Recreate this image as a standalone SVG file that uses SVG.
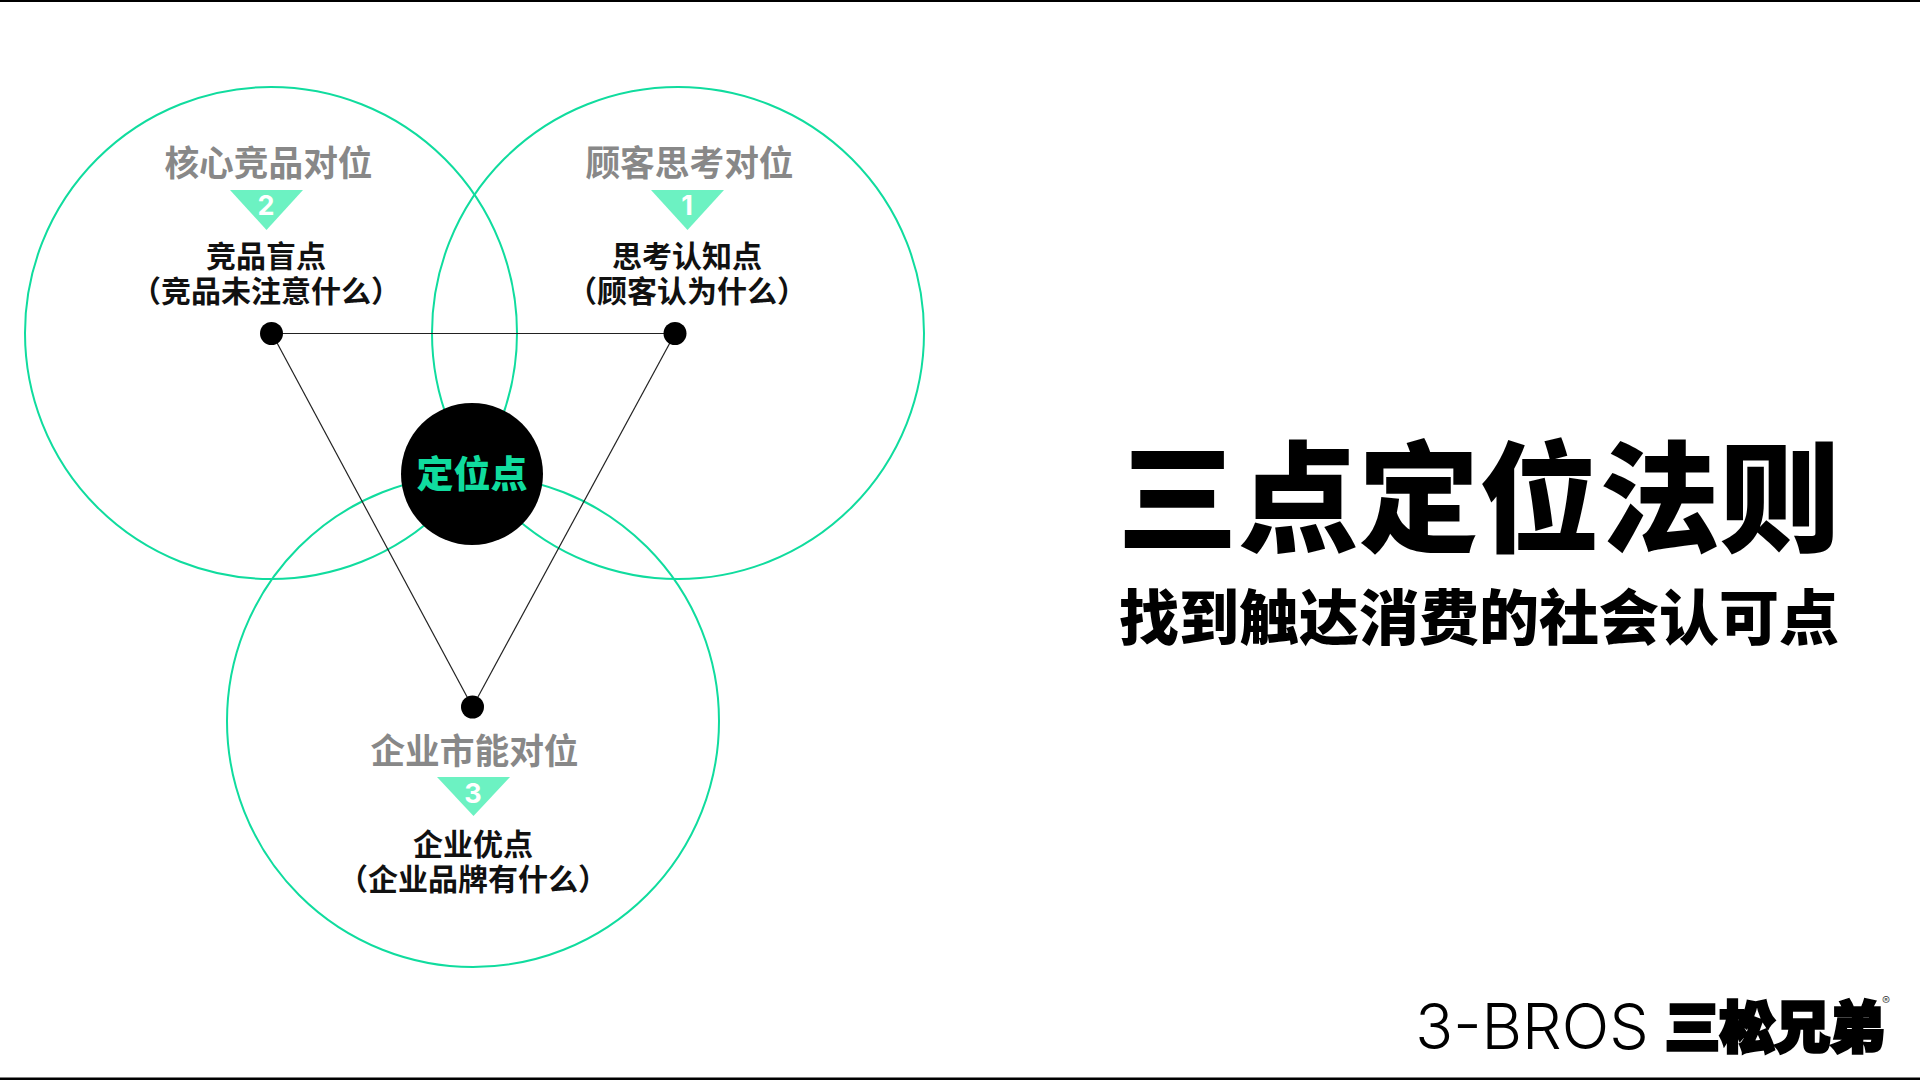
<svg xmlns="http://www.w3.org/2000/svg" width="1920" height="1080" viewBox="0 0 1920 1080">
<style>
text{font-family:"Noto Sans CJK SC","Noto Sans",sans-serif;text-anchor:middle}
.ring{fill:none;stroke:#10dc9e;stroke-width:2}
.dot{fill:#000}
.tri{fill:#6cf2c2}
.lab{font-size:34.700px;font-weight:700;fill:#888}
.num{font-family:Inter,sans-serif;font-size:27px;font-weight:700;fill:#fff}
.sub{font-size:30px;font-weight:700;fill:#111}
.edge{stroke:#222;stroke-width:1.2;fill:none}
.latin{font-family:Inter,sans-serif;font-weight:300}
</style>
<rect id="bg" width="1920" height="1080" fill="#fff"/>
<rect id="rule-top" width="1920" height="2" fill="#000"/>
<rect id="rule-bottom" y="1077.500" width="1920" height="2.500" fill="#000"/>
<g id="rings">
<circle class="ring" cx="271" cy="333" r="246"/>
<circle class="ring" cx="678" cy="333" r="246"/>
<circle class="ring" cx="473" cy="721" r="246"/>
</g>
<g id="connectors">
<line class="edge" x1="272" y1="333.500" x2="675" y2="333.500"/>
<line class="edge" x1="272" y1="333.500" x2="472.500" y2="707"/>
<line class="edge" x1="675" y1="333.500" x2="472.500" y2="707"/>
</g>
<g id="node-center">
<circle cx="472" cy="474" r="71" fill="#000"/>
<text x="472" y="488" font-size="37" font-weight="900" fill="#10dc9e">定位点</text>
</g>
<g id="node-2">
<circle class="dot" cx="271.500" cy="333.500" r="11.500"/>
<text class="lab" x="268.500" y="175.500">核心竞品对位</text>
<polygon class="tri" points="230,190 303,190 266.500,230"/>
<text class="num" x="266" y="215">2</text>
<text class="sub" x="266" y="267">竞品盲点</text>
<text class="sub" x="266" y="302">（竞品未注意什么）</text>
</g>
<g id="node-1">
<circle class="dot" cx="675" cy="333.500" r="11.500"/>
<text class="lab" x="689.500" y="175.500">顾客思考对位</text>
<polygon class="tri" points="651,190 724,190 687.500,230"/>
<text class="num" x="687" y="215">1</text>
<text class="sub" x="687" y="267">思考认知点</text>
<text class="sub" x="687" y="302">（顾客认为什么）</text>
</g>
<g id="node-3">
<circle class="dot" cx="472.500" cy="707" r="11.500"/>
<text class="lab" x="474.500" y="763.500">企业市能对位</text>
<polygon class="tri" points="437,777 510,777 473.500,816"/>
<text class="num" x="473" y="803">3</text>
<text class="sub" x="473" y="855">企业优点</text>
<text class="sub" x="473" y="890">（企业品牌有什么）</text>
</g>
<g id="title">
<text x="1479" y="542.500" font-size="120.500" font-weight="900" fill="#000">三点定位法则</text>
<text x="1479" y="640" font-size="60" font-weight="900" fill="#000">找到触达消费的社会认可点</text>
</g>
<g id="logo">
<text class="latin" x="1532" y="1049" font-size="62.500" fill="#000">3-BROS</text>
<text x="1775" y="1047" font-size="55" font-weight="900" fill="#000" stroke="#000" stroke-width="3.500">三松兄弟</text>
<text class="latin" x="1886" y="1005" font-size="12" fill="#333">®</text>
</g>
</svg>
